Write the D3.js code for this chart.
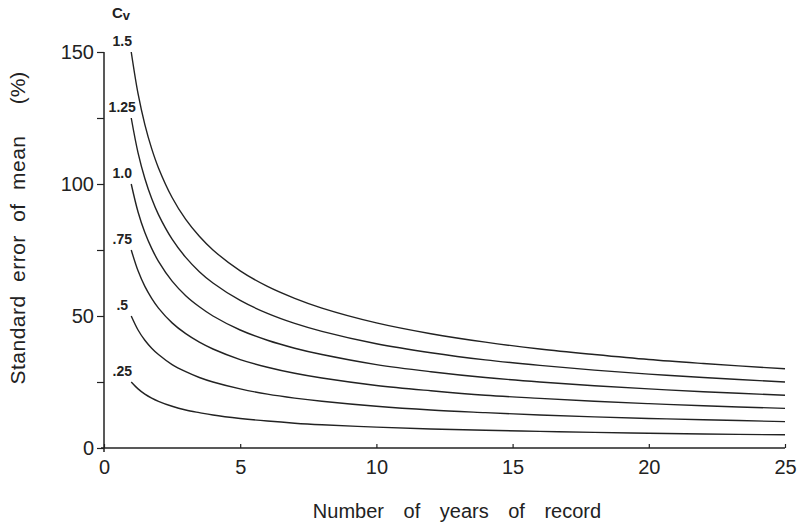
<!DOCTYPE html>
<html>
<head>
<meta charset="utf-8">
<script src="https://cdn.jsdelivr.net/npm/d3@7"></script>
<style>
  html, body { margin: 0; padding: 0; background: #fff; }
  svg { display: block; }
</style>
</head>
<body>
<svg id="chart" width="802" height="528"></svg>
<script>
// Years of record sampled along each curve
const years = [1, 1.25, 1.5, 1.75, 2, 2.5, 3, 3.5, 4, 5, 6, 7, 8, 10, 12, 14, 16, 18, 20, 22, 25];
// Cv curve labels
const cvLabels = ["1.5", "1.25", "1.0", ".75", ".5", ".25"];
// Standard error of mean (%)
const se150 = [150, 134.2, 122.5, 113.4, 106.1, 94.9, 86.6, 80.2, 75.0, 67.1, 61.2, 56.7, 53.0, 47.4, 43.3, 40.1, 37.5, 35.4, 33.5, 32.0, 30.0];
const se125 = [125, 111.8, 102.1, 94.5, 88.4, 79.1, 72.2, 66.8, 62.5, 55.9, 51.0, 47.2, 44.2, 39.5, 36.1, 33.4, 31.3, 29.5, 28.0, 26.7, 25.0];
const se100 = [100, 89.4, 81.6, 75.6, 70.7, 63.2, 57.7, 53.5, 50.0, 44.7, 40.8, 37.8, 35.4, 31.6, 28.9, 26.7, 25.0, 23.6, 22.4, 21.3, 20.0];
const se075 = [75, 67.1, 61.2, 56.7, 53.0, 47.4, 43.3, 40.1, 37.5, 33.5, 30.6, 28.3, 26.5, 23.7, 21.7, 20.0, 18.8, 17.7, 16.8, 16.0, 15.0];
const se050 = [50, 44.7, 40.8, 37.8, 35.4, 31.6, 28.9, 26.7, 25.0, 22.4, 20.4, 18.9, 17.7, 15.8, 14.4, 13.4, 12.5, 11.8, 11.2, 10.7, 10.0];
const se025 = [25, 22.4, 20.4, 18.9, 17.7, 15.8, 14.4, 13.4, 12.5, 11.2, 10.2, 9.4, 8.8, 7.9, 7.2, 6.7, 6.3, 5.9, 5.6, 5.3, 5.0];
const seriesValues = [se150, se125, se100, se075, se050, se025];
// Axis ticks
const xTicks = [0, 5, 10, 15, 20, 25];
const yMajorTicks = [0, 50, 100, 150];
const yMinorTicks = [25, 75, 125];

const svg = d3.select("#chart");
const x = d3.scaleLinear().domain([0, 25]).range([104, 785]);
const y = d3.scaleLinear().domain([0, 150]).range([448, 52]);
const ink = "#222";
const font = "'Liberation Sans', Arial, Helvetica, sans-serif";

// X axis (ticks point inward)
const xAxis = d3.axisBottom(x).tickValues(xTicks).tickSizeInner(-4).tickSizeOuter(0).tickPadding(12).tickFormat(d3.format("d"));
const gx = svg.append("g").attr("transform", `translate(0,${y(0)})`).call(xAxis);
gx.select(".domain").attr("stroke", ink).attr("stroke-width", 1.5).attr("d", `M${x(0) - 3},0H${x(25)}`);
gx.selectAll(".tick line").attr("stroke", ink).attr("stroke-width", 1.2);
gx.selectAll(".tick text").attr("fill", ink).style("font-family", font).style("font-size", "20px");

// Y axis (major)
const yAxis = d3.axisLeft(y).tickValues(yMajorTicks).tickSize(7).tickPadding(3).tickFormat(d3.format("d"));
const gy = svg.append("g").attr("transform", `translate(${x(0)},0)`).call(yAxis);
gy.select(".domain").attr("stroke", ink).attr("stroke-width", 1.5).attr("d", `M0,${y(0) + 4}V${y(150)}`);
gy.selectAll(".tick line").attr("stroke", ink).attr("stroke-width", 1.2);
gy.selectAll(".tick text").attr("fill", ink).style("font-family", font).style("font-size", "20px");

// Y axis (minor)
const yMinor = d3.axisLeft(y).tickValues(yMinorTicks).tickSize(7).tickFormat("");
const gym = svg.append("g").attr("transform", `translate(${x(0)},0)`).call(yMinor);
gym.select(".domain").remove();
gym.selectAll(".tick line").attr("stroke", ink).attr("stroke-width", 1.2);

// Curves
const line = d3.line()
  .x((d, i) => x(years[i]))
  .y(d => y(d))
  .curve(d3.curveCatmullRom.alpha(0.5));

seriesValues.forEach((vals, k) => {
  svg.append("path")
    .attr("d", line(vals))
    .attr("fill", "none")
    .attr("stroke", ink)
    .attr("stroke-width", 1.4);
  svg.append("text")
    .attr("x", x(years[0]) - 9)
    .attr("y", y(vals[0]) - 6)
    .attr("text-anchor", "middle")
    .attr("fill", ink)
    .style("font-family", font)
    .style("font-size", "14px")
    .style("font-weight", "bold")
    .text(cvLabels[k]);
});

// Cv header
const cv = svg.append("text")
  .attr("x", 112).attr("y", 18)
  .attr("fill", ink)
  .style("font-family", font)
  .style("font-weight", "bold");
cv.append("tspan").style("font-size", "15px").text("C");
cv.append("tspan").style("font-size", "13px").attr("dy", 2).text("v");

// Axis titles
svg.append("text")
  .attr("transform", `translate(25,260) rotate(-90)`)
  .attr("text-anchor", "middle")
  .attr("fill", ink)
  .style("font-family", font)
  .style("font-size", "21px")
  .style("word-spacing", "7px")
  .style("letter-spacing", "0.5px")
  .text("Standard error of mean");

svg.append("text")
  .attr("transform", `translate(25,88) rotate(-90)`)
  .attr("text-anchor", "middle")
  .attr("fill", ink)
  .style("font-family", font)
  .style("font-size", "21px")
  .text("(%)");

svg.append("text")
  .attr("x", 457).attr("y", 518)
  .attr("text-anchor", "middle")
  .attr("fill", ink)
  .style("font-family", font)
  .style("font-size", "20px")
  .style("word-spacing", "14px")
  .text("Number of years of record");
</script>
</body>
</html>
